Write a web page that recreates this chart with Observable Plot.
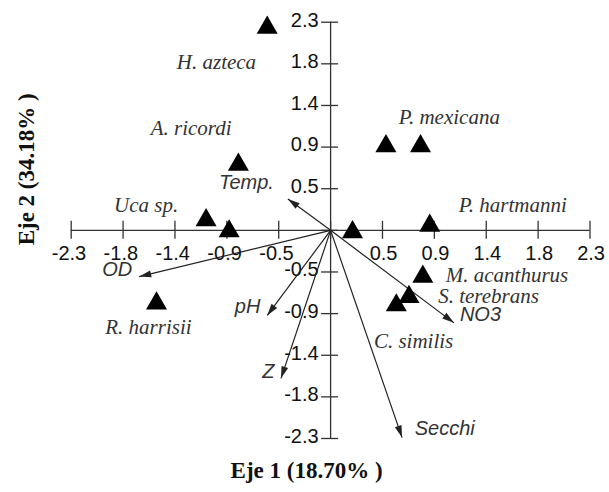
<!DOCTYPE html>
<html><head><meta charset="utf-8">
<script src="https://cdn.jsdelivr.net/npm/d3@7"></script>
<script src="https://cdn.jsdelivr.net/npm/@observablehq/plot@0.6"></script>
<style>body{margin:0;background:#fff}</style>
</head><body><div id="chart"></div>
<script>
// Species scores (triangles)
const ptX = [-0.55, -0.80, 0.48, 0.78, -1.08, -0.88, 0.19, 0.86, 0.80, 0.68, 0.57, -1.51];
const ptY = [2.19, 0.71, 0.91, 0.91, 0.11, -0.01, -0.02, 0.05, -0.50, -0.72, -0.81, -0.79];
// Species labels
const speciesLabels = ["H. azteca", "A. ricordi", "P. mexicana", "Uca sp.", "P. hartmanni", "M. acanthurus", "S. terebrans", "C. similis", "R. harrisii"];
const speciesLabelX = [-0.99, -1.21, 1.03, -1.60, 1.58, 1.53, 1.37, 0.72, -1.58];
const speciesLabelY = [1.815, 1.10, 1.22, 0.27, 0.27, -0.49, -0.715, -1.20, -1.05];
// Environmental vectors
const envVars = ["Temp.", "OD", "pH", "Z", "NO3", "Secchi"];
const envX = [-0.37, -1.66, -0.55, -0.43, 1.07, 0.62];
const envY = [0.34, -0.50, -0.92, -1.60, -1.00, -2.24];
const envLabelX = [-0.73, -1.85, -0.72, -0.54, 1.30, 0.99];
const envLabelY = [0.52, -0.42, -0.82, -1.53, -0.91, -2.14];
// Axes
const tickValues = [-2.25, -1.8, -1.35, -0.9, -0.45, 0, 0.45, 0.9, 1.35, 1.8, 2.25];
const xTickLabels = ["-2.3", "-1.8", "-1.4", "-0.9", "-0.5", "", "0.5", "0.9", "1.4", "1.8", "2.3"];
const yTickLabels = ["-2.3", "-1.8", "-1.4", "-0.9", "-0.5", "", "0.5", "0.9", "1.4", "1.8", "2.3"];
const xTitle = "Eje 1 (18.70% )";
const yTitle = "Eje 2 (34.18% )";

const W = 609, H = 492;
const mL = 70.7, mR = 19.5, mT = 21.7, mB = 54;
const lim = 2.25;
const kx = (W - mL - mR) / (2 * lim), ky = (H - mT - mB) / (2 * lim);

const points = ptX.map((x, i) => ({x, y: ptY[i]}));
const sLabels = speciesLabels.map((t, i) => ({t, x: speciesLabelX[i], y: speciesLabelY[i]}));
const env = envVars.map((t, i) => ({t, x: envX[i], y: envY[i], lx: envLabelX[i], ly: envLabelY[i],
  a: Math.atan2(envX[i] * kx, envY[i] * ky) * 180 / Math.PI}));
const xt = tickValues.map((v, i) => ({v, t: xTickLabels[i]}));
const yt = tickValues.map((v, i) => ({v, t: yTickLabels[i]}));

const arrowHead = {draw(ctx) { ctx.moveTo(0, 0); ctx.lineTo(-3.5, 12); ctx.lineTo(3.5, 12); ctx.closePath(); }};

const axisColor = "#333";
const chart = Plot.plot({
  width: W, height: H,
  marginLeft: mL, marginRight: mR, marginTop: mT, marginBottom: mB,
  x: {domain: [-lim, lim], axis: null},
  y: {domain: [-lim, lim], axis: null},
  style: {fontFamily: "Liberation Sans, Arial, sans-serif", fontSize: "20px", background: "#fff"},
  marks: [
    Plot.ruleY([0], {x1: -lim, x2: lim, stroke: axisColor, strokeWidth: 1.3}),
    Plot.ruleX([0], {y1: -lim, y2: lim, stroke: axisColor, strokeWidth: 1.3}),
    Plot.ruleX(xt, {x: "v", y1: 0, y2: 0, insetTop: -9, insetBottom: -9, stroke: axisColor, strokeWidth: 1.3}),
    Plot.ruleY(yt, {y: "v", x1: 0, x2: 0, insetLeft: -9, insetRight: -8, stroke: axisColor, strokeWidth: 1.3}),
    Plot.text(xt, {x: "v", y: 0, text: "t", textAnchor: "end", dx: 15, dy: 23, fill: "#111"}),
    Plot.text(yt, {x: 0, y: "v", text: "t", textAnchor: "end", dx: -12, dy: -2, fill: "#111"}),
    Plot.link(env, {x1: 0, y1: 0, x2: "x", y2: "y", stroke: "#222", strokeWidth: 1.2}),
    Plot.dot(env, {x: "x", y: "y", symbol: arrowHead, r: 5, rotate: "a", fill: "#222", stroke: "none"}),
    Plot.dot(points, {x: "x", y: "y", symbol: "triangle", r: 7.8, fill: "#000"}),
    Plot.text(sLabels, {x: "x", y: "y", text: "t", fontFamily: "Liberation Serif, Times New Roman, serif", fontStyle: "italic", fontSize: 21, fill: "#333"}),
    Plot.text(env, {x: "lx", y: "ly", text: "t", fontStyle: "italic", fontSize: 20, fill: "#333"}),
    Plot.text([xTitle], {frameAnchor: "bottom", text: d => d, dx: -24, dy: 39, fontFamily: "Liberation Serif, Times New Roman, serif", fontWeight: "bold", fontSize: 23, fill: "#111"}),
    Plot.text([yTitle], {frameAnchor: "left", text: d => d, rotate: -90, dx: -45, dy: 15, fontFamily: "Liberation Serif, Times New Roman, serif", fontWeight: "bold", fontSize: 23, fill: "#111"})
  ]
});
document.getElementById("chart").appendChild(chart);
</script>
</body></html>
